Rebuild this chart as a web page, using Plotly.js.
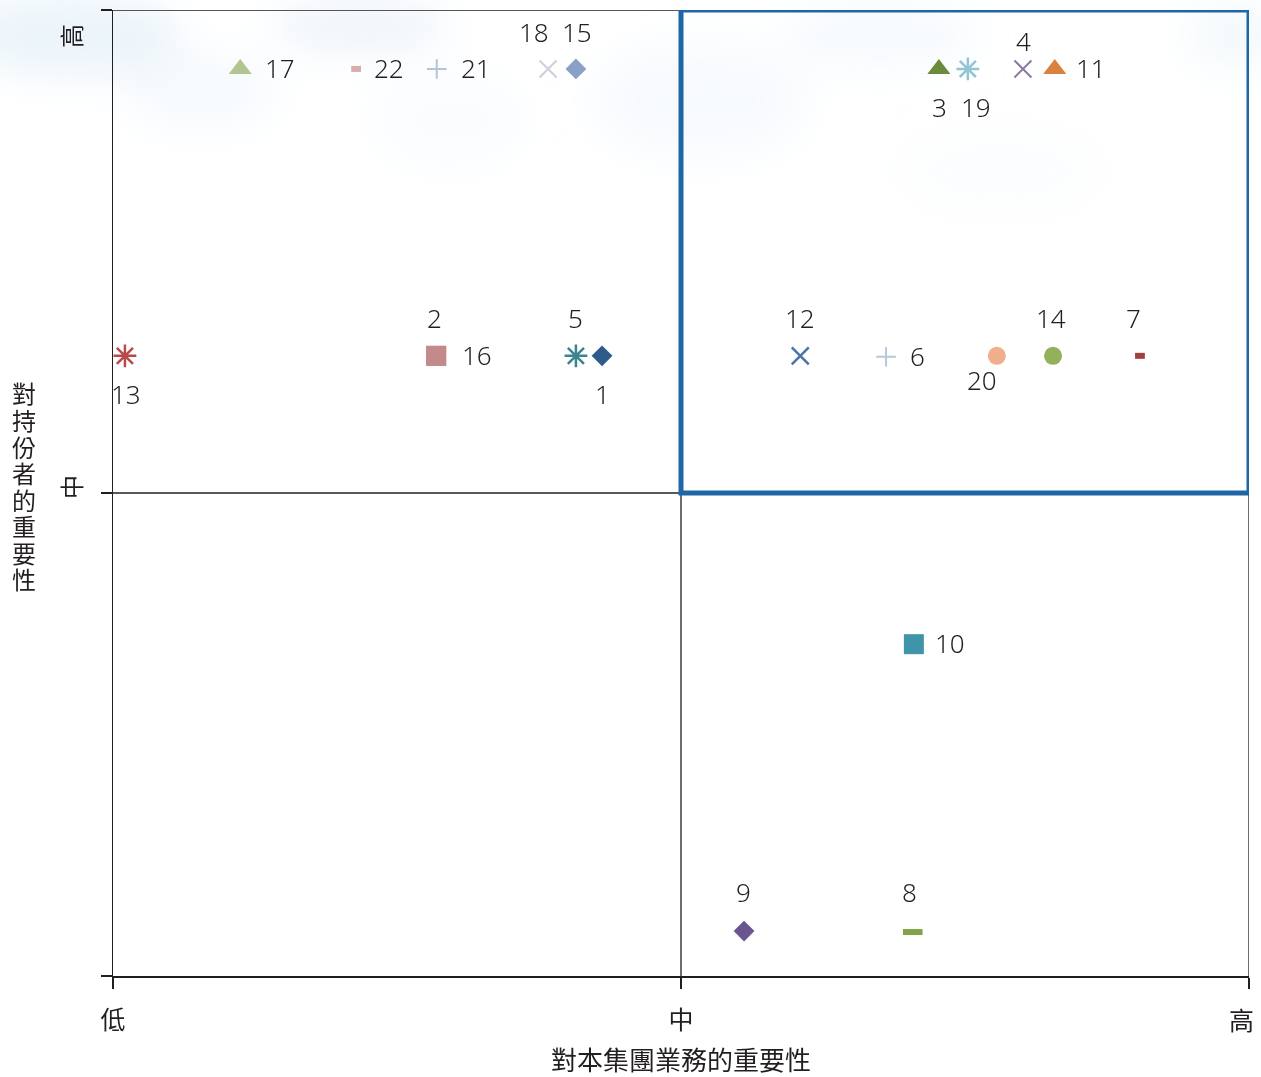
<!DOCTYPE html>
<html>
<head>
<meta charset="utf-8">
<script src="https://cdn.plot.ly/plotly-3.0.1.min.js"></script>
<style>
html,body{margin:0;padding:0;background:#ffffff;}
#bg{position:absolute;left:0;top:0;width:1261px;height:1077px;z-index:0;}
#chart{position:absolute;left:0;top:0;width:1261px;height:1077px;z-index:1;}
</style>
</head>
<body>
<svg id="bg" xmlns="http://www.w3.org/2000/svg" width="1261" height="1077">
  <defs>
    <filter id="blur" x="-50%" y="-50%" width="200%" height="200%"><feGaussianBlur stdDeviation="20"/></filter>
  </defs>
  <g filter="url(#blur)" fill="#d3e6f4">
    <ellipse cx="70" cy="35" rx="110" ry="40" opacity="0.45"/>
    <ellipse cx="200" cy="90" rx="80" ry="40" opacity="0.2"/>
    <ellipse cx="360" cy="25" rx="90" ry="30" opacity="0.35"/>
    <ellipse cx="450" cy="120" rx="80" ry="50" opacity="0.12"/>
    <ellipse cx="700" cy="100" rx="110" ry="60" opacity="0.18"/>
    <ellipse cx="880" cy="35" rx="100" ry="35" opacity="0.2"/>
    <ellipse cx="1000" cy="170" rx="110" ry="50" opacity="0.08"/>
    <ellipse cx="1235" cy="35" rx="50" ry="35" opacity="0.25"/>
  </g>
</svg>
<div id="chart"></div>
<script>
// ---- data ----
var ids = ['1','2','3','4','5','6','7','8','9','10','11','12','13','14','15','16','17','18','19','20','21','22'];
// importance to the group's business (0 = 低, 1 = 中, 2 = 高)
var businessImportance = [0.861, 0.569, 1.454, 1.602, 0.815, 1.361, 1.808, 1.408, 1.111, 1.410, 1.658, 1.210, 0.021, 1.655, 0.815, 0.569, 0.224, 0.766, 1.505, 1.556, 0.570, 0.428];
// importance to stakeholders (0 = 低, 1 = 中, 2 = 高)
var stakeholderImportance = [1.284, 1.284, 1.878, 1.878, 1.284, 1.282, 1.284, 0.091, 0.093, 0.687, 1.878, 1.284, 1.284, 1.284, 1.878, 1.284, 1.878, 1.878, 1.878, 1.284, 1.878, 1.878];
var levelTicks = [0, 1, 2];
var levelLabels = ['低', '中', '高'];
var xTitle = '對本集團業務的重要性';
var yTitle = '對持份者的重要性';

// ---- styles ----
var symbols = ['diamond','square','triangle-up','x-thin-open','asterisk-open','cross-thin-open','line-ew-open','line-ew-open','diamond','square','triangle-up','x-thin-open','asterisk-open','circle','diamond','square','triangle-up','x-thin-open','asterisk-open','circle','cross-thin-open','line-ew-open'];
var colors = ['#2f5b8a','#c4898b','#6a8a3e','#8a7aa0','#3b8591','#b6c8dd','#a0403f','#82a24a','#6b558e','#3f94a8','#d9813f','#4a74a8','#b84a4a','#93b05a','#8aa0c4','#c4898b','#b0c590','#d2cddc','#93c5d4','#efae8c','#b6c2d9','#d9adac'];
var sizes = [16,20,20,17,19,14,7,14,16,20,20,17,19,18,16,20,20,17,19,18,14,7];
var lineWidths = [0,0,0,2,2.5,2,6,6,0,0,0,2.5,2.5,0,0,0,0,2,2.5,0,2,6];
// label placement: [anchor, dx, dy]
var labelPlace = [['c',0,-38],['c',-2,38],['c',1,-38],['c',1,28],['c',0,38],['l',22,1],['c',-6,38],['c',-3,40],['c',-1,39],['l',19,1],['l',19,1],['c',0,38],['c',1,-38],['c',-2,38],['c',1,37],['l',24,1],['l',23,1],['c',-14,37],['c',8,-38],['c',-15,-24],['l',22,1],['l',16,1]];

var numFont = {family: '"Noto Sans", sans-serif', size: 26, color: '#231f20', weight: 300};
var cjkFamily = '"Noto Sans CJK TC", sans-serif';
var ink = '#231f20';

var trace = {
  type: 'scatter', mode: 'markers',
  x: businessImportance, y: stakeholderImportance,
  hoverinfo: 'text', text: ids,
  marker: {symbol: symbols, color: colors, size: sizes, opacity: 1,
           line: {color: colors, width: lineWidths}},
  cliponaxis: false, showlegend: false
};

var annotations = [];
for (var i = 0; i < ids.length; i++) {
  var p = labelPlace[i];
  annotations.push({
    x: businessImportance[i], y: stakeholderImportance[i], xref: 'x', yref: 'y',
    text: ids[i], showarrow: false, font: numFont,
    xanchor: p[0] === 'l' ? 'left' : 'center', yanchor: 'middle',
    xshift: p[1], yshift: p[2]
  });
}
// y tick labels (rotated)
annotations.push({x: 0, y: 1, xref: 'paper', yref: 'y', text: levelLabels[1], showarrow: false, textangle: -90,
  font: {family: cjkFamily, size: 24, color: ink}, xanchor: 'center', yanchor: 'middle', xshift: -43, yshift: 6});
annotations.push({x: 0, y: 2, xref: 'paper', yref: 'y', text: levelLabels[2], showarrow: false, textangle: -90,
  font: {family: cjkFamily, size: 24, color: ink}, xanchor: 'center', yanchor: 'middle', xshift: -43, yshift: -26});
// x tick label at the right edge
annotations.push({x: 2, y: 0, xref: 'x', yref: 'paper', text: levelLabels[2], showarrow: false,
  font: {family: cjkFamily, size: 25, color: ink}, xanchor: 'center', yanchor: 'middle', xshift: -8, yshift: -43});
// y title stacked vertically
var yChars = Array.from(yTitle);
for (var k = 0; k < yChars.length; k++) {
  var py = 393 + k * 26.5;
  annotations.push({x: 0, y: (976 - py) / 966, xref: 'paper', yref: 'paper', text: yChars[k], showarrow: false,
    font: {family: cjkFamily, size: 24, color: ink}, xanchor: 'center', yanchor: 'middle', xshift: -89});
}
// x title
annotations.push({x: 0.5, y: (976 - 1058) / 966, xref: 'paper', yref: 'paper', text: xTitle, showarrow: false,
  font: {family: cjkFamily, size: 26, color: ink}, xanchor: 'center', yanchor: 'middle'});

var gridLine = {color: ink, width: 1.3};
var shapes = [
  {type: 'line', xref: 'x', yref: 'y', x0: 0, x1: 1, y0: 1, y1: 1, line: gridLine, layer: 'below'},
  {type: 'line', xref: 'x', yref: 'y', x0: 0, x1: 1, y0: 2, y1: 2, line: gridLine, layer: 'below'},
  {type: 'line', xref: 'x', yref: 'y', x0: 1, x1: 1, y0: 0, y1: 1, line: gridLine, layer: 'below'},
  {type: 'line', xref: 'x', yref: 'y', x0: 2, x1: 2, y0: 0, y1: 1, line: gridLine, layer: 'below'},
  {type: 'rect', xref: 'x', yref: 'y', x0: 1, x1: 2, y0: 1, y1: 2, line: {color: '#1f66a6', width: 5}, fillcolor: 'rgba(0,0,0,0)'}
];

var layout = {
  width: 1261, height: 1077,
  margin: {l: 113, r: 12, t: 10, b: 101},
  paper_bgcolor: 'rgba(0,0,0,0)', plot_bgcolor: 'rgba(0,0,0,0)',
  xaxis: {range: [0, 2], tickvals: levelTicks, ticktext: [levelLabels[0], levelLabels[1], ''], ticks: 'outside', ticklen: 11,
          tickcolor: ink, tickwidth: 1.3, showgrid: false, zeroline: false, showline: true, linecolor: ink, linewidth: 2,
          tickfont: {family: cjkFamily, size: 25, color: ink}, ticklabelstandoff: 10, fixedrange: true},
  yaxis: {range: [0, 2], tickvals: levelTicks, ticktext: ['', '', ''], ticks: 'outside', ticklen: 11,
          tickcolor: ink, tickwidth: 1.3, showgrid: false, zeroline: false, showline: true, linecolor: ink, linewidth: 1.5,
          fixedrange: true},
  shapes: shapes,
  annotations: annotations,
  showlegend: false
};

Plotly.newPlot('chart', [trace], layout, {displayModeBar: false, staticPlot: true});
</script>
</body>
</html>
